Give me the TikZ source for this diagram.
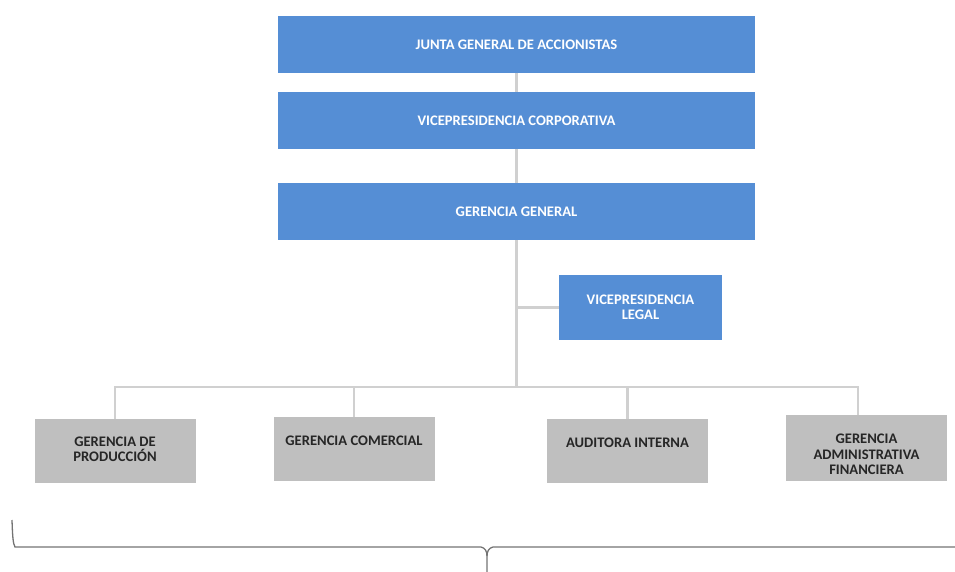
\documentclass[tikz,border=0pt]{standalone}
\usepackage{fontspec}
\setmainfont{Carlito}
\usetikzlibrary{positioning}
\definecolor{boxblue}{RGB}{85,142,213}
\definecolor{boxgray}{RGB}{191,191,191}
\definecolor{linkgray}{RGB}{208,208,208}
\definecolor{bracegray}{RGB}{115,115,115}
\begin{document}
\begin{tikzpicture}[x=1pt,y=-1pt,
  topbox/.style={fill=boxblue, text=white, minimum width=477pt, minimum height=57pt, inner sep=0pt, outer sep=0pt, align=center, font=\bfseries\fontsize{14.6}{15.5}\selectfont},
  lowbox/.style={fill=boxgray, minimum width=161pt, minimum height=64pt, inner sep=0pt, outer sep=0pt},
  lowtext/.style={text={rgb,255:red,38;green,38;blue,38}, inner sep=0pt, outer sep=0pt, align=center, font=\bfseries\fontsize{14.6}{15.5}\selectfont},
  link/.style={draw=linkgray, line width=2.2pt},
  brace/.style={draw=bracegray, line width=1.3pt}]
\useasboundingbox (0,0) rectangle (955,572);
% upper boxes
\node[topbox] (junta) at (516.5,44.5) {JUNTA GENERAL DE ACCIONISTAS};
\node[topbox] (vcorp) at (516.5,120.5) {VICEPRESIDENCIA CORPORATIVA};
\node[topbox] (gg) at (516.5,211.5) {GERENCIA GENERAL};
\node[topbox, minimum width=163pt, minimum height=65pt] (legal) at (640.5,307.5) {VICEPRESIDENCIA\\LEGAL};
% lower boxes
\node[lowbox] (prod) at (115,450.5) {};
\node[lowbox] (com) at (354,449) {};
\node[lowbox] (aud) at (627.5,450.5) {};
\node[lowbox, minimum height=66pt] (admin) at (866.5,448) {};
\node[lowtext, below=18pt of prod.north] (prodtxt) {GERENCIA DE\\PRODUCCIÓN};
\node[lowtext, below=19pt of com.north] (comtxt) {GERENCIA COMERCIAL};
\node[lowtext, below=19pt of aud.north] (audtxt) {AUDITORA INTERNA};
\node[lowtext, below=19pt of admin.north] (admintxt) {GERENCIA\\ADMINISTRATIVA\\FINANCIERA};
% connectors
\coordinate (bus) at (516.5,387);
\coordinate (admintop) at (858,415);
\draw[link] (junta) -- (vcorp);
\draw[link] (vcorp) -- (gg);
\draw[link] (gg) -- (bus);
\draw[link] (legal.west -| bus) -- (legal.west);
\draw[link] (prod.north) |- (bus) -| (admintop);
\draw[link] (com.north) -- (com.north |- bus);
\draw[link] (aud.north) -- (aud.north |- bus);
% brace
\draw[brace] (12,520) .. controls (12.5,535) and (13,544) .. (15,547) -- (481,547) .. controls (485,548) and (487,551) .. (487,556) -- (487,572);
\draw[brace] (487,556) .. controls (487,551) and (489,548) .. (493,547) -- (955,547);
\end{tikzpicture}
\end{document}
